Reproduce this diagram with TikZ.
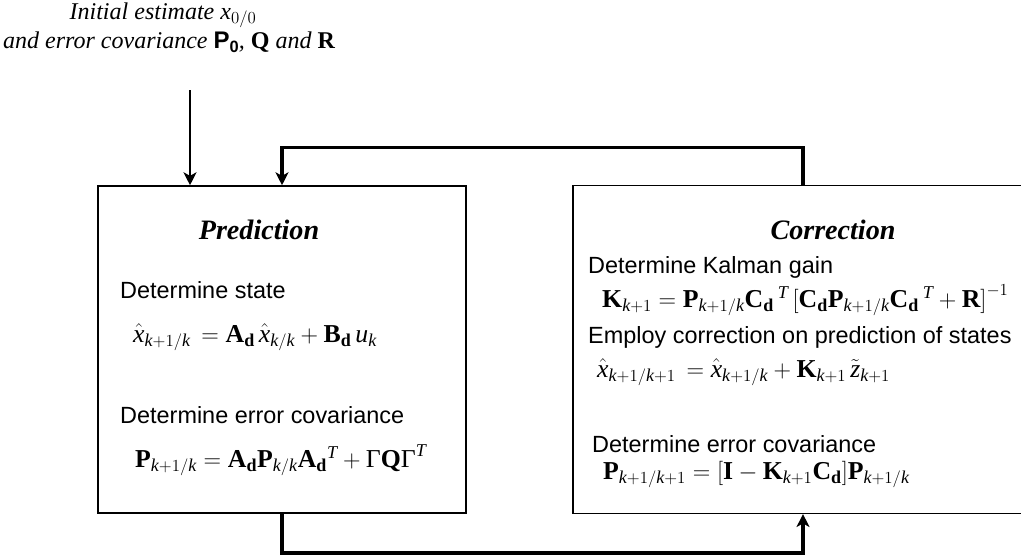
\documentclass[tikz,border=0pt]{standalone}
\usepackage{amsmath}
\usepackage{fontspec}
\setmainfont{Liberation Serif}
\setmathrm{Liberation Serif}
\setboldmathrm{Liberation Serif}
\newfontfamily\arialf{Liberation Sans}
\usetikzlibrary{arrows.meta}
\newcommand\vk{\mathit{k}}
\newcommand\kp{\mathit{k}+1}
\newcommand\bb[1]{\mathbf{#1}}
\newcommand\bd{\mathbf{d}}
\newcommand\Gm{\text{\upshape Γ}}
\tikzset{
  box/.style={draw, line width=1.3pt, inner sep=0pt},
  conn/.style={line width=2.6pt, -{Stealth[length=11pt,width=11pt,inset=3pt]}},
  lbl/.style={font=\arialf\fontsize{20}{24}\selectfont, inner sep=0pt, anchor=base west},
  eqn/.style={font=\fontsize{22}{26}\selectfont, inner sep=0pt, anchor=base west},
  ttl/.style={font=\fontsize{24}{28}\selectfont\bfseries\itshape, inner sep=0pt},
  intro/.style={font=\fontsize{20.5}{24}\selectfont\itshape, inner sep=0pt}
}
\begin{document}
\begin{tikzpicture}[x=0.03cm,y=-0.03cm]
\useasboundingbox (0,0) rectangle (1021,559);
\clip (0,0) rectangle (1021,559);
% boxes
\node[box, minimum width=11.04cm, minimum height=9.81cm] (pred) at (282,349.5) {};
\node[box, minimum width=13.80cm, minimum height=9.84cm] (corr) at (803,349.3) {};
% intro text
\node[intro] (init1) at (163,15) {Initial estimate $\mathit{x}_{0/0}$};
\node[intro] (init2) at (169,42) {and error covariance {\upshape\arialf\bfseries P\raisebox{-0.35ex}{\fontsize{14}{16}\selectfont 0}}, \textbf{\upshape Q} and \textbf{\upshape R}};
% connectors
\coordinate (s0) at (190,90);
\draw[conn, line width=2.2pt] (s0) -- (s0 |- pred.north);
\coordinate (fb) at (282,147.5);
\draw[conn] (corr.north) |- (fb) -- (fb |- pred.north);
\coordinate (bt) at (282,553);
\draw[conn] (pred.south) -- (bt) -| (corr.south);
% prediction contents
\node[ttl] (pt) at (259,230) {Prediction};
\node[lbl] (p1) at (120,298) {Determine state};
\node[eqn] (pe1) at (133,342) {$\hat{\mathit{x}}_{\kp/\vk} \,= \bb{A}_{\bd}\,\hat{\mathit{x}}_{\vk/\vk} + \bb{B}_{\bd}\,\mathit{u}_{\vk}$};
\node[lbl] (p2) at (120,423) {Determine error covariance};
\node[eqn] (pe2) at (135,467) {$\bb{P}_{\kp/\vk} = \bb{A}_{\bd}\bb{P}_{\vk/\vk}\bb{A}_{\bd}{}^{\mathit{T}} + \Gm\bb{Q}\Gm^{\mathit{T}}$};
% correction contents
\node[ttl] (ct) at (833,230) {Correction};
\node[lbl] (c1) at (588,273) {Determine Kalman gain};
\node[eqn] (ce1) at (602,307) {$\bb{K}_{\kp} = \bb{P}_{\kp/\vk}\bb{C}_{\bd}\,{}^{\mathit{T}}\,\bb{[}\bb{C}_{\bd}\bb{P}_{\kp/\vk}\bb{C}_{\bd}\,{}^{\mathit{T}} + \bb{R}\bb{]}^{-1}$};
\node[lbl] (c2) at (588,343) {Employ correction on prediction of states};
\node[eqn] (ce2) at (597,377) {$\hat{\mathit{x}}_{\kp/\kp} \,= \hat{\mathit{x}}_{\kp/\vk} + \bb{K}_{\kp}\,\tilde{\mathit{z}}_{\kp}$};
\node[lbl] (c3) at (592,452) {Determine error covariance};
\node[eqn] (ce3) at (603,479) {$\bb{P}_{\kp/\kp} = \bb{[}\bb{I} - \bb{K}_{\kp}\bb{C}_{\bd}\bb{]}\bb{P}_{\kp/\vk}$};
\end{tikzpicture}
\end{document}
